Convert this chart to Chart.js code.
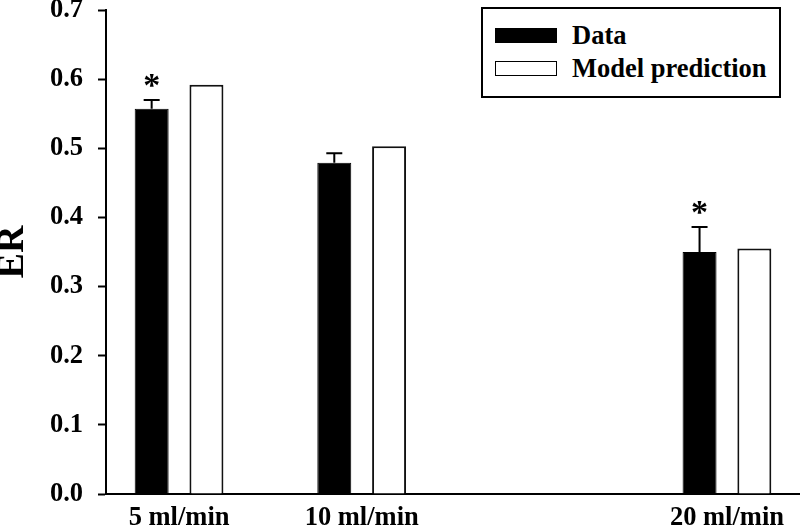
<!DOCTYPE html>
<html lang="en">
<head>
    <meta charset="UTF-8">
    <title>ER vs flow rate</title>
    <script src="https://cdn.jsdelivr.net/npm/chart.js"></script>
    <style>
        body {
            margin: 0;
            padding: 0;
            background-color: #fff;
            font-family: 'Liberation Serif', 'Times New Roman', serif;
        }
        .chart-wrap {
            position: relative;
            width: 800px;
            height: 526px;
        }
        .legend-box {
            position: absolute;
            left: 481px;
            top: 7px;
            width: 296px;
            height: 87px;
            border: 2px solid #000;
            background: #fff;
        }
        .legend-item {
            position: absolute;
            left: 12px;
            display: flex;
            align-items: center;
            font-weight: bold;
            font-size: 26.5px;
            line-height: 1;
            color: #000;
        }
        .legend-swatch {
            width: 60px;
            height: 13px;
            margin-right: 15px;
            border: 1px solid #000;
        }
    </style>
</head>
<body>
    <div class="chart-wrap">
        <canvas id="erChart"></canvas>
        <div class="legend-box" id="legend"></div>
    </div>

    <script>
        // values
        const flowRates = [5, 10, 20];
        const flowLabels = ['5 ml/min', '10 ml/min', '20 ml/min'];
        const dataER = [0.557, 0.479, 0.350];
        const dataErr = [0.013, 0.014, 0.036];
        const modelER = [0.592, 0.503, 0.355];
        const significant = [true, false, true];

        const serif = "'Liberation Serif', 'Times New Roman', serif";

        // upper error bars + significance stars on the Data bars
        const errorBarPlugin = {
            id: 'errorBars',
            afterDatasetsDraw(chart) {
                const ctx = chart.ctx;
                const yScale = chart.scales.y;
                const meta = chart.getDatasetMeta(0);
                ctx.save();
                ctx.strokeStyle = '#000';
                ctx.fillStyle = '#000';
                ctx.lineWidth = 2;
                meta.data.forEach((bar, i) => {
                    const yTop = yScale.getPixelForValue(dataER[i] + dataErr[i]);
                    const yBar = yScale.getPixelForValue(dataER[i]);
                    ctx.beginPath();
                    ctx.moveTo(bar.x, yBar);
                    ctx.lineTo(bar.x, yTop);
                    ctx.moveTo(bar.x - 8, yTop);
                    ctx.lineTo(bar.x + 8, yTop);
                    ctx.stroke();
                    if (significant[i]) {
                        ctx.font = 'bold 34px ' + serif;
                        ctx.textAlign = 'center';
                        ctx.textBaseline = 'alphabetic';
                        ctx.fillText('*', bar.x, yTop - 4);
                    }
                });
                ctx.restore();
            }
        };

        const chart = new Chart(document.getElementById('erChart'), {
            type: 'bar',
            data: {
                labels: flowRates,
                datasets: [
                    {
                        label: 'Data',
                        data: flowRates.map((x, i) => ({ x: x, y: dataER[i] })),
                        backgroundColor: '#000',
                        borderColor: '#000',
                        borderWidth: 1
                    },
                    {
                        label: 'Model prediction',
                        data: flowRates.map((x, i) => ({ x: x, y: modelER[i] })),
                        backgroundColor: '#fff',
                        borderColor: '#111',
                        borderWidth: 2
                    }
                ]
            },
            options: {
                responsive: true,
                maintainAspectRatio: false,
                animation: false,
                categoryPercentage: 0.6,
                barPercentage: 0.62,
                layout: {
                    padding: { top: 10, right: 0, bottom: 0, left: 0 }
                },
                plugins: {
                    legend: { display: false },
                    tooltip: { enabled: false }
                },
                scales: {
                    x: {
                        type: 'linear',
                        offset: false,
                        min: 3,
                        max: 22,
                        afterBuildTicks: (scale) => {
                            scale.ticks = flowRates.map(v => ({ value: v }));
                        },
                        afterFit: (scale) => {
                            scale.height = 32;
                            scale.paddingLeft = 0;
                            scale.paddingRight = 0;
                        },
                        grid: { display: false, drawTicks: false },
                        border: { display: true, color: '#000', width: 2 },
                        ticks: {
                            color: '#000',
                            padding: 8,
                            maxRotation: 0,
                            font: { family: serif, size: 26.5, weight: 'bold' },
                            callback: (value) => flowLabels[flowRates.indexOf(value)]
                        }
                    },
                    y: {
                        min: 0,
                        max: 0.7,
                        afterFit: (scale) => {
                            scale.width = 106;
                            scale.paddingTop = 0;
                            scale.paddingBottom = 0;
                        },
                        grid: {
                            drawOnChartArea: false,
                            drawTicks: true,
                            tickLength: 8,
                            tickWidth: 2,
                            tickColor: '#000'
                        },
                        border: { display: true, color: '#000', width: 2 },
                        ticks: {
                            stepSize: 0.1,
                            color: '#000',
                            padding: 15,
                            font: { family: serif, size: 26.5, weight: 'bold' },
                            callback: (value) => value.toFixed(1)
                        },
                        title: {
                            display: true,
                            text: 'ER',
                            color: '#000',
                            padding: 0,
                            font: { family: serif, size: 38, weight: 'bold', lineHeight: 0.7 }
                        }
                    }
                }
            },
            plugins: [errorBarPlugin]
        });

        // legend box inside the plot, built from the datasets
        const legendEl = document.getElementById('legend');
        chart.data.datasets.forEach((ds, i) => {
            const item = document.createElement('div');
            item.className = 'legend-item';
            item.style.top = (13 + i * 33) + 'px';
            const sw = document.createElement('span');
            sw.className = 'legend-swatch';
            sw.style.background = ds.backgroundColor;
            const txt = document.createElement('span');
            txt.textContent = ds.label;
            item.appendChild(sw);
            item.appendChild(txt);
            legendEl.appendChild(item);
        });
    </script>
</body>
</html>
